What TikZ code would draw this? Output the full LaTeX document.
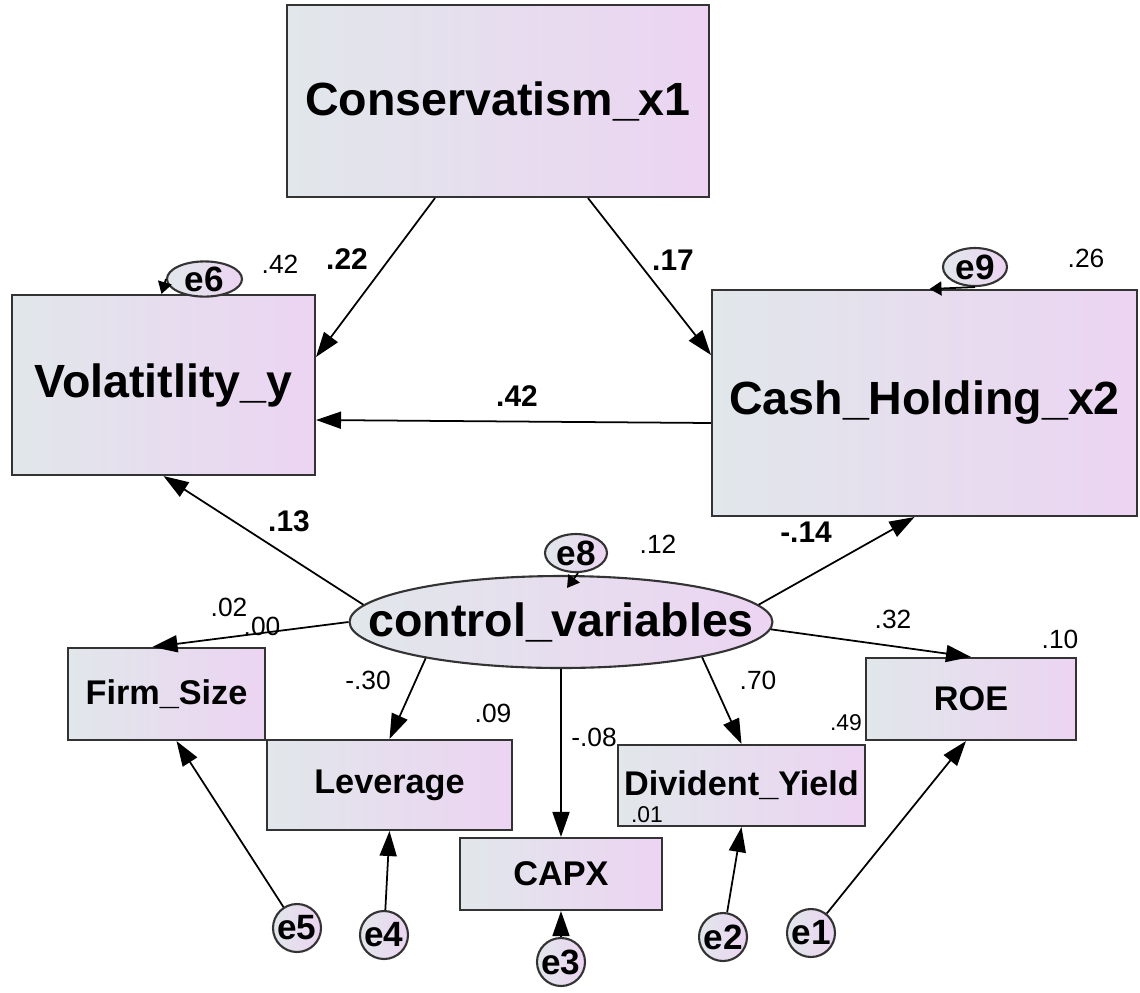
\documentclass[tikz,border=0pt]{standalone}
\usepackage{fontspec}
\setmainfont{Liberation Sans}
\usetikzlibrary{arrows.meta,shapes.geometric}

\definecolor{shadeleft}{HTML}{E1E7EA}
\definecolor{shaderight}{HTML}{ECD4F2}
\newcommand{\nowidth}[1]{\makebox[0pt]{#1}}

\tikzset{
  varbox/.style={rectangle, draw=black!80, line width=1.2pt, left color=shadeleft, right color=shaderight, inner sep=0pt, font=\bfseries\fontsize{19.5}{22}\selectfont},
  bigbox/.style={varbox, font=\bfseries\fontsize{26.5}{30}\selectfont},
  latent/.style={ellipse, draw=black!80, line width=1.2pt, left color=shadeleft, right color=shaderight, inner sep=0pt, font=\bfseries\fontsize{26.5}{30}\selectfont},
  errvar/.style={ellipse, draw=black!80, line width=1.2pt, left color=shadeleft, right color=shaderight, inner sep=0pt, font=\bfseries\fontsize{20}{22}\selectfont},
  errcirc/.style={errvar, minimum width=0.96cm, minimum height=0.96cm},
  regpath/.style={-{Triangle[length=0.5cm,width=0.34cm]}, line width=1pt},
  looppath/.style={-{Triangle[length=0.24cm,width=0.28cm]}, line width=1pt},
  coef/.style={font=\bfseries\fontsize{17}{19}\selectfont},
  est/.style={font=\fontsize{15}{17}\selectfont},
  smallest/.style={font=\fontsize{13}{15}\selectfont},
}

\begin{document}
\begin{tikzpicture}[x=0.02cm,y=-0.02cm]
\useasboundingbox (0,0) rectangle (1140,992);

% observed variables
\node[bigbox, minimum width=8.44cm, minimum height=3.84cm] (cons) at (498,101) {Conservatism\_x1};
\node[bigbox, minimum width=6.06cm, minimum height=3.6cm] (vol) at (163.5,385) {Volatitlity\_y};
\node[bigbox, minimum width=8.5cm, minimum height=4.52cm] (cash) at (924.5,403) {Cash\_Holding\_x2};
\node[varbox, minimum width=3.94cm, minimum height=1.84cm] (firm) at (166.5,694) {Firm\_Size};
\node[varbox, minimum width=4.9cm, minimum height=1.8cm] (lev) at (389.5,785) {Leverage};
\node[varbox, minimum width=4.04cm, minimum height=1.44cm] (capx) at (561,874) {CAPX};
\node[varbox, minimum width=4.94cm, minimum height=1.62cm] (div) at (741.5,785.5) {Divident\_Yield};
\node[varbox, minimum width=4.2cm, minimum height=1.64cm] (roe) at (971,699) {ROE};

% latent variable
\node[latent, minimum width=8.46cm, minimum height=1.84cm] (ctrl) at (561,622) {\nowidth{control\_variables}};

% error terms
\node[errvar, minimum width=1.5cm, minimum height=0.68cm] (e6) at (204.5,279) {\nowidth{e6}};
\node[errvar, minimum width=1.28cm, minimum height=0.76cm] (e9) at (975,267) {\nowidth{e9}};
\node[errvar, minimum width=1.24cm, minimum height=0.76cm] (e8) at (576,553) {\nowidth{e8}};
\node[errcirc] (e5) at (297,928) {\nowidth{e5}};
\node[errcirc] (e4) at (384,935) {\nowidth{e4}};
\node[errcirc] (e3) at (561,962) {\nowidth{e3}};
\node[errcirc] (e2) at (723,937) {\nowidth{e2}};
\node[errcirc] (e1) at (811,933) {\nowidth{e1}};

% structural paths
\draw[regpath] ([xshift=-1.26cm]cons.south) -- ([yshift=0.56cm]vol.east);
\draw[regpath] ([xshift=1.8cm]cons.south) -- ([yshift=0.96cm]cash.west);
\draw[regpath] ([yshift=-0.4cm]cash.west) -- ([yshift=-0.7cm]vol.east);
\draw[regpath] (ctrl.175) -- (vol.south);
\draw[regpath] (ctrl.5) -- ([xshift=-0.2cm]cash.south);

% control variable loadings
\draw[regpath] (ctrl.180) -- ([xshift=-0.28cm]firm.north);
\draw[regpath] (ctrl.-165) -- (lev.north);
\draw[regpath] (ctrl.south) -- (capx.north);
\draw[regpath] (ctrl.-14) -- (div.north);
\draw[regpath] (ctrl.-2) -- (roe.north);

% error paths
\draw[regpath] (e5) -- ([xshift=0.2cm]firm.south);
\draw[regpath] (e4) -- (lev.south);
\draw[regpath] (e3) -- (capx.south);
\draw[regpath] (e2) -- (div.south);
\draw[regpath] (e1) -- ([xshift=-0.1cm]roe.south);
\draw[looppath] (e6.west) -- ([xshift=-0.04cm]vol.north);
\draw[looppath] (e9.south) -- ([xshift=0.1cm]cash.north);
\draw[looppath] ([xshift=0.04cm]e8.south) -- ([xshift=0.12cm,yshift=-0.26cm]ctrl.north);

% coefficients
\node[coef] (c1) at (347,259) {.22};
\node[coef] (c2) at (673,260) {.17};
\node[coef] (c3) at (517,396) {.42};
\node[coef] (c4) at (289,521) {.13};
\node[coef] (c5) at (806,532) {-.14};
\node[est] (c6) at (229,607) {.02};
\node[est] (c7) at (262,626) {.00};
\node[est] (c8) at (368,680) {-.30};
\node[est] (c9) at (594,737) {-.08};
\node[est] (c10) at (758,680) {.70};
\node[est] (c11) at (893,619) {.32};

% squared multiple correlations
\node[est] (r1) at (280,264) {.42};
\node[est] (r2) at (1086,258) {.26};
\node[est] (r3) at (658,544) {.12};
\node[est] (r4) at (1060,639) {.10};
\node[est] (r5) at (493,713) {.09};
\node[smallest] (r6) at (846,723) {.49};
\node[smallest] (r7) at (647,815) {.01};
\end{tikzpicture}
\end{document}
